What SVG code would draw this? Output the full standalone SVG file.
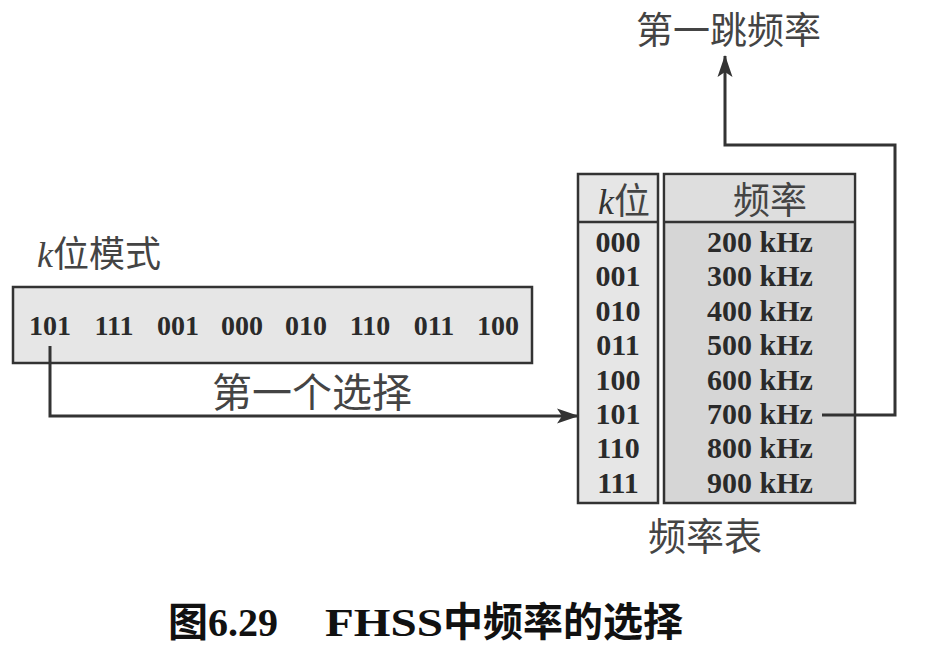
<svg xmlns="http://www.w3.org/2000/svg" width="929" height="648" viewBox="0 0 929 648">
<style>
.box{stroke:#333;stroke-width:2.5}
.cjk{font-family:"Noto Sans CJK SC","Noto Sans CJK JP",sans-serif;fill:#444}
.num{font-family:"Liberation Serif","DejaVu Serif",serif;fill:#2a2a2a;font-size:30px;font-weight:bold;text-anchor:middle}
.bits{font-family:"Liberation Serif","DejaVu Serif",serif;fill:#2a2a2a;font-size:28px;font-weight:bold;text-anchor:middle}
.conn{fill:none;stroke:#333;stroke-width:3}
</style>
<defs>
<marker id="arr" markerUnits="userSpaceOnUse" markerWidth="22" markerHeight="18" refX="21" refY="9" orient="auto">
<path d="M0,1.5 L22,9 L0,16.5 L5,9 Z" fill="#333"/>
</marker>
</defs>
<rect width="929" height="648" fill="#fff"/>
<g id="pattern-label">
<text x="37" y="267" class="cjk" font-size="36"><tspan font-family="Liberation Serif,serif" font-style="italic">k</tspan>位模式</text>
</g>
<g id="pattern-box">
<rect x="13" y="287" width="519" height="76" class="box" fill="#e6e6e6"/>
<text class="bits" y="335"><tspan x="50">101</tspan><tspan x="114">111</tspan><tspan x="178">001</tspan><tspan x="242">000</tspan><tspan x="306">010</tspan><tspan x="370">110</tspan><tspan x="434">011</tspan><tspan x="498">100</tspan></text>
</g>
<g id="select-label">
<text x="212" y="407" class="cjk" font-size="40">第一个选择</text>
</g>
<g id="freq-table">
<rect x="578" y="174" width="80" height="329" class="box" fill="#e6e6e6"/>
<rect x="664" y="174" width="191" height="329" class="box" fill="#d6d6d6"/>
<rect x="665.5" y="175.5" width="188" height="46" fill="#dedede"/>
<line x1="578" y1="222" x2="658" y2="222" class="box"/>
<line x1="664" y1="222" x2="855" y2="222" class="box"/>
<text x="598" y="214" class="cjk" font-size="36"><tspan font-family="Liberation Serif,serif" font-style="italic" fill="#333">k</tspan>位</text>
<text x="733" y="214" class="cjk" font-size="37">频率</text>
<g class="num">
<text x="618" y="252">000</text><text x="760" y="252">200 kHz</text>
<text x="618" y="286">001</text><text x="760" y="286">300 kHz</text>
<text x="618" y="321">010</text><text x="760" y="321">400 kHz</text>
<text x="618" y="355">011</text><text x="760" y="355">500 kHz</text>
<text x="618" y="390">100</text><text x="760" y="390">600 kHz</text>
<text x="618" y="424">101</text><text x="760" y="424">700 kHz</text>
<text x="618" y="458">110</text><text x="760" y="458">800 kHz</text>
<text x="618" y="493">111</text><text x="760" y="493">900 kHz</text>
</g>
</g>
<g id="table-label">
<text x="648" y="550" class="cjk" font-size="38">频率表</text>
</g>
<g id="hop-label">
<text x="636" y="44" class="cjk" font-size="37">第一跳频率</text>
</g>
<g id="connectors">
<path class="conn" d="M50,346 V416 H578" marker-end="url(#arr)"/>
<path class="conn" d="M822,415 H895 V145 H725 V56" marker-end="url(#arr)"/>
</g>
<g id="caption">
<text x="168" y="636" font-size="40" font-weight="bold" fill="#111" font-family="Liberation Serif,Noto Sans CJK SC,serif"><tspan font-family="Noto Sans CJK SC,sans-serif">图</tspan><tspan>6.29</tspan><tspan x="325" textLength="118" lengthAdjust="spacingAndGlyphs">FHSS</tspan><tspan font-family="Noto Sans CJK SC,sans-serif">中频率的选择</tspan></text>
</g>
</svg>
